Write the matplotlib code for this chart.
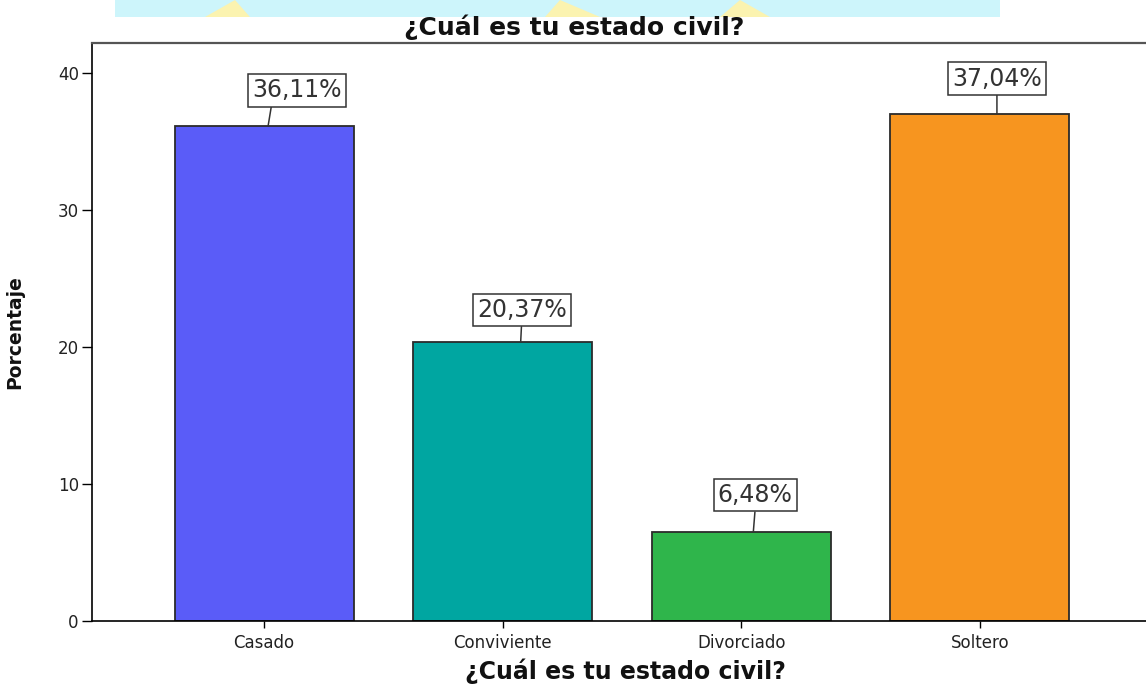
import matplotlib
matplotlib.use("Agg")
import matplotlib.pyplot as plt
from matplotlib.patches import Rectangle, Polygon

plt.rcParams["font.family"] = ["DejaVu Sans"]

# datos
categorias = ["Casado", "Conviviente", "Divorciado", "Soltero"]
porcentajes = [36.11, 20.37, 6.48, 37.04]
colores = ["#5a5cf8", "#00a6a1", "#2fb54b", "#f7951f"]
yticks = [0, 10, 20, 30, 40]

# desplazamientos de las etiquetas (px): punto de anclaje sobre la barra,
# centro de la caja respecto al anclaje, altura sobre la barra,
# y punto de la caja donde arranca la línea guía
ancla_dx = [4, 18, 12, 17]
caja_dx = [29, 1, 2, 0]
caja_dy = [24, 20, 25, 23]
guia_rel = [0.22, 0.5, 0.5, 0.5]

W, H = 1146, 685
fig = plt.figure(figsize=(W / 100, H / 100), dpi=100)
fig.patch.set_facecolor("white")

# franja de fondo superior (marca de agua del documento)
fig.patches.append(Rectangle((115 / W, 1 - 17 / H), 885 / W, 17 / H,
                             transform=fig.transFigure, facecolor="#cdf5fb",
                             edgecolor="none", zorder=0))
for xs in [(205, 235, 250), (545, 560, 600), (720, 740, 770)]:
    fig.patches.append(Polygon([(xs[0] / W, 1 - 17 / H), (xs[1] / W, 1.0),
                                (xs[2] / W, 1 - 17 / H)],
                               transform=fig.transFigure, facecolor="#fbf3b0",
                               edgecolor="none", zorder=0))

ax = fig.add_axes([92 / W, (H - 621) / H, (W - 92) / W, (621 - 43) / H])
x = list(range(len(categorias)))
ax.bar(x, porcentajes, width=0.75, color=colores, edgecolor="#2b2b2b",
       linewidth=1.3, zorder=2)

ax.set_xlim(-0.721, 3.696)
ax.set_ylim(0, 42.19)
ax.set_yticks(yticks)
ax.set_xticks(x)
ax.set_xticklabels(categorias, fontsize=12, color="#222222")
ax.tick_params(axis="y", direction="out", length=7.5, width=1, pad=2,
               labelsize=12, labelcolor="#222222")
ax.tick_params(axis="x", direction="out", length=5, width=1, pad=4)

for s in ["left", "bottom"]:
    ax.spines[s].set_color("black")
    ax.spines[s].set_linewidth(1.2)
ax.spines["top"].set_color("#555555")
ax.spines["top"].set_linewidth(1.6)
ax.spines["right"].set_visible(False)

# etiquetas de valor con caja y línea guía
px = 238.5  # px por unidad en x
for i, v in enumerate(porcentajes):
    txt = f"{v:.2f}%".replace(".", ",")
    ax.annotate(txt, xy=(i + ancla_dx[i] / px, v),
                xytext=(caja_dx[i], caja_dy[i]), textcoords="offset pixels",
                ha="center", va="bottom", fontsize=17, color="#333333",
                bbox=dict(boxstyle="square,pad=0.18", facecolor="white",
                          edgecolor="#333333", linewidth=1.1),
                arrowprops=dict(arrowstyle="-", color="#333333", linewidth=1.1,
                                shrinkA=0, shrinkB=0,
                                relpos=(guia_rel[i], 0.0)),
                zorder=3)

fig.text(574 / W, 1 - 27 / H, "¿Cuál es tu estado civil?", ha="center",
         va="center", fontsize=18, fontweight="bold", color="#111111")

ax.set_xlabel("¿Cuál es tu estado civil?", fontsize=17, fontweight="bold",
              color="#111111")
ax.xaxis.set_label_coords((625 - 92) / (W - 92), (621 - 659) / 578)
ax.set_ylabel("Porcentaje", fontsize=13.5, fontweight="bold", color="#111111")
ax.yaxis.set_label_coords((24 - 92) / (W - 92), 0.5)

fig.savefig("out.png", dpi=100)
